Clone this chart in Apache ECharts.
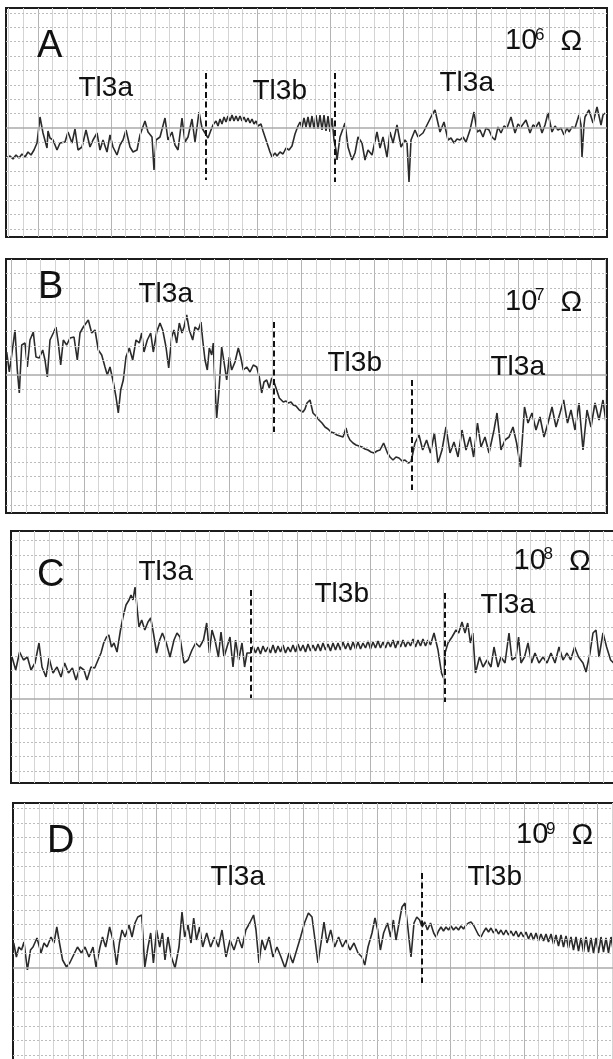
<!DOCTYPE html>
<html><head><meta charset="utf-8">
<script src="https://cdn.jsdelivr.net/npm/echarts@6/dist/echarts.min.js"></script>
<style>html,body{margin:0;padding:0;background:#fff}#c{width:613px;height:1059px}</style>
</head><body><div id="c"></div>
<script>
// ---- data: [time, amplitude] read from the recordings ----
const traceA = [[0,-30],[4,-28],[7,-31],[10,-27],[13,-30],[16,-26],[19,-29],[22,-24],[25,-27],[28,-22],[31,-15],[34,11],[37,-5],[41,-20],[42,-3],[44,-10],[47,-12],[51,-22],[54,-15],[59,-14],[62,-4],[66,-15],[69,-1],[72,-22],[76,-19],[80,-2],[84,-19],[87,-12],[91,-5],[94,-22],[97,-12],[101,-24],[104,-7],[107,-19],[111,-27],[114,-17],[117,-12],[120,-2],[124,-19],[127,-24],[131,-22],[134,-7],[139,7],[142,-4],[146,-9],[148,-42],[150,-12],[154,-9],[159,10],[162,-12],[166,-4],[169,-17],[172,-22],[176,10],[179,-14],[182,-9],[186,9],[189,-14],[193,16],[196,0],[199,-5],[202,-10],[205,-2],[207,3],
[210,7],[212,2],[214,9],[216,4],[218,11],[220,6],[222,12],[224,7],[226,13],[228,7],[230,12],[232,7],[234,12],[236,7],[238,11],[240,6],[242,10],[244,5],[246,9],[248,4],[250,7],[252,2],[255,4],[257,-3],[260,-12],[262,-18],[264,-24],[266,-29],[269,-25],[271,-28],[274,-24],[277,-26],[280,-20],[283,-22],[286,-18],[289,-6],[292,2],[294,6],
[296,0],[298,10],[300,1],[302,11],[304,0],[306,12],[308,-1],[310,13],[312,-1],[314,13],[316,-2],[318,13],[320,-3],[322,12],[324,-4],[326,10],[328,-12],[330,-22],[331,-32],[334,-9],[339,5],[342,-19],[346,-32],[349,-25],[352,-9],[356,-15],[359,-32],[362,-22],[366,-27],[371,-4],[374,-20],[377,-9],[381,-29],[384,-4],[387,-15],[391,3],[395,-19],[399,-12],[401,-15],[403,-54],[405,-12],[409,-2],[412,-9],[417,-5],[422,5],[426,13],[429,18],[434,-4],[438,6],[442,-12],[445,-10],[448,-15],[451,-11],[454,-12],[457,-9],[460,-14],[464,-2],[468,16],[471,-4],[474,-2],[477,-9],[480,0],[483,-2],[486,-9],[489,-12],[492,1],[495,-5],[498,2],[501,0],[505,11],[509,-5],[512,4],[515,1],[520,8],[524,-5],[527,3],[530,1],[533,6],[536,-5],[539,3],[542,15],[546,-4],[549,2],[552,-2],[555,0],[558,-7],[561,0],[563,-4],[566,1],[569,0],[573,13],[575,3],[576,-29],[578,3],[579,11],[583,18],[587,5],[591,21],[595,3],[597,13],[599,15]];

const traceB = [[0.7,23],[3.3,3],[5.7,20],[9,45],[11.3,5],[13.3,-18],[15.7,30],[19,32],[21.3,8],[24,35],[27.3,43],[30,18],[33.3,17],[36.7,25],[39,15],[41.3,-2],[44,35],[47.3,42],[50,48],[52.3,32],[54.7,10],[57.3,35],[60.7,30],[64,37],[68,38],[71.3,15],[74,42],[77.3,48],[82.3,55],[85.7,42],[89,45],[92.3,25],[95.7,20],[99,8],[101.3,0],[104,8],[107.3,-7],[110,-22],[112.3,-38],[114.7,-15],[117.3,-5],[120,18],[123.3,27],[126.7,15],[130,35],[133.3,32],[135.7,42],[138,23],[141.3,35],[144.7,42],[147.3,23],[150.7,43],[154,52],[156.7,45],[160,28],[162.7,7],[165.7,38],[168,45],[170.7,32],[173.3,52],[176,42],[178,48],[180.7,60],[183.3,45],[186.7,35],[189,48],[192.3,45],[195,53],[196.7,35],[199,15],[201.3,5],[203.3,27],[205.7,20],[207.3,32],[209,-12],[210.7,-43],[213,-15],[215.7,28],[218,13],[220.7,-5],[223.3,18],[225.7,5],[229,13],[232.3,27],[234.7,18],[237.3,5],[240.7,8],[244,3],[247.3,10],[250.7,8],[253.3,-2],[255.7,-18],[258,-7],[260.7,-5],[263.3,-13],[265.7,-3],[268,-7],[270.7,-15],[273.3,-23],[275,-25],[277.3,-27],[280,-26],[282.3,-28],[285,-27],[287.3,-30],[290,-31],[293.3,-35],[295,-34],
[297,-37],[299,-34],[301,-28],[304,-25],[307,-38],[310,-41],[313,-45],[316,-48],[319,-52],[322,-54],[325,-57],[328,-58],[331,-60],[334,-61],[337,-62],[340,-53],[342,-61],[344,-65],[347,-68],[350,-70],[353,-71],[356,-72],[359,-74],[362,-75],[365,-77],[368,-78],[371,-76],[374,-75],[377.6,-68],[381.5,-78],[384,-82],[387,-85],[390,-82],[393,-83],[396,-86],[399,-85],[402,-88],[405,-87],
[409,-68],[413,-60],[416.7,-75],[420.6,-65],[424.5,-78],[428.4,-58],[432,-88],[436,-75],[440,-52],[444,-78],[448,-67],[452,-82],[456,-55],[460,-75],[464,-62],[467.6,-82],[471.5,-48],[475,-72],[479,-62],[483,-78],[488,-55],[491,-38],[495,-75],[499,-65],[503,-62],[507,-52],[510.6,-68],[514.5,-92],[518.5,-32],[522,-48],[526,-38],[530,-55],[534,-42],[538,-62],[542,-48],[546,-32],[550,-52],[554,-38],[557.6,-25],[561.5,-48],[565,-35],[569,-55],[573,-28],[577,-75],[581,-35],[585,-52],[589,-28],[593,-45],[597,-25],[600,-48]];

const traceCpre = [[1,42],[4.7,29],[8.6,47],[12.5,39],[16.4,42],[20,29],[24,36],[28,56],[31,32],[35,22],[38,41],[42,26],[46,32],[50,22],[53.6,36],[57.5,26],[61.4,31],[65,19],[69,32],[73,29],[76,19],[80,32],[83.7,31],[87,39],[90,46],[92.7,56],[95.5,62],[97.8,64],[100.5,52],[103,56],[106,47],[109.5,69],[112,82],[115,94],[118,99],[120,104],[122,99],[124,112],[126,92],[128,72],[130.7,79],[133.8,69],[137,77],[139.7,81],[142.4,66],[145.6,46],[148.7,59],[151.4,66],[155.3,56],[159,42],[163,59],[166,66],[169,62],[173,36],[177,39],[181,49],[184.7,56],[188.6,52],[192.5,59],[195.7,76],[198.4,46],[201,69],[204,59],[207.4,42],[210,67],[213,42],[216,52],[219,62],[222,32],[224.6,59],[227.7,39],[231,56],[233.6,32],[236,46],[239.5,46]];
// Tl3b oscillation in C, sampled every 2.5 time units from t = 242
const tl3bCStart = 242, tl3bCStep = 2.5;
const tl3bC = [53,46,52,45,53,47,52,46,54, 46,53,47,54,46,52,47,54,47, 55,48,54,47,55,48,54,48,55, 48,56,49,55,48,56,49,56,49, 57,50,56,49,57,50,57,50,56, 51,58,50,57,51,58,51,57,51, 58,52,59,51,58,52,59,52,58, 53,60,52,59,53,60,53,59,54];
const traceCpost = [[423,66],[427,49],[430.5,26],[432.5,21],[434,46],[437,56],[441,62],[445,69],[447.7,66],[451,77],[454,66],[456.7,76],[459.4,56],[461.8,66],[464.5,26],[468.5,42],[472,32],[476,39],[480,32],[483,52],[487,32],[490,42],[494,36],[498,66],[501,39],[505,42],[507.6,62],[510,36],[513.5,42],[517,56],[520.5,36],[524,46],[528,36],[532,42],[536,36],[540,46],[544,36],[548,52],[552,39],[556,46],[559.6,39],[563.6,52],[567.5,42],[572,36],[575,27],[579,46],[582,66],[585,69],[588,42],[592,66],[595.6,52],[599.6,39],[602.7,36]];

const traceDpre = [[0.7,25],[3.4,11],[5.8,21],[8.5,18],[11,26],[14.4,-2],[17.5,18],[20,21],[24,30],[28,15],[31,25],[34,21],[38,31],[41,25],[43.8,41],[46.5,25],[49.6,8],[53.5,1],[56.7,5],[60.6,13],[64.5,21],[68.4,15],[72,21],[76,11],[80,21],[83,1],[87,21],[89.5,31],[92.7,21],[96.6,41],[100.5,26],[103.6,3],[106.4,25],[109,38],[112,31],[116,43],[119,31],[122,45],[124.8,51],[128.7,53],[131.8,1],[135,21],[137.7,35],[140.4,5],[143.6,38],[146.7,21],[149.4,35],[152,8],[155,31],[158.4,11],[162,0],[166,21],[169,56],[171.7,31],[175,43],[178,25],[180.7,50],[183.5,28],[186.6,41],[189.7,21],[193.7,35],[197.6,21],[201.5,31],[205.4,21],[209,38],[213,11],[217,28],[221,18],[225,31],[229,20],[232.8,38],[236.7,45],[240.6,53],[243,38],[246,5],[249,28],[252,18],[256,31],[260,11],[264,21],[268,11],[272,0],[276,15],[279.8,5],[283.7,18],[287.6,31],[291.5,45],[295.4,55],[299,51],[302,28],[305,5],[308,25],[311,46],[314,25],[317.7,38],[321.6,21],[325.6,31],[329.5,21],[333,28],[337,18],[341,25],[345,15],[349,11],[351.8,3],[355,21],[359,35],[362,50],[364.7,38],[367.4,18],[370.6,35],[374.5,45],[377.6,31],[380.4,48],[383,28],[386,45],[389,61],[392,65],[394.8,41],[398,11],[401,45],[403.8,51],[406.6,48],[409,41],[411.7,46],[414.4,38],[417.5,45],[420.7,35]];
// Tl3b section in D, sampled every 2.5 time units from t = 423
const tl3bDStart = 423, tl3bDStep = 2.5;
const tl3bD = [31,37,41,37,41,38,42,38,41, 38,42,39,43,45,46,43,38,33, 31,36,40,36,40,35,39,34,38, 33,38,33,37,32,37,31,36,31, 36,29,35,28,35,27,34,27,34, 26,34,24,33,22,33,21,32,20, 31,18,31,17,30,16,31,16,30, 15,30,15,31,16,30,15,31,16];

// solution-change boundaries: [time, top, bottom]
const boundA = [[200,55,-52],[328.6,55,-54]];
const boundB = [[268,53,-57],[406,-5,-115]];
const boundC = [[239.5,109,1],[434,106,-3]];
const boundD = [[408.5,95,-15]];

const resist = ['6','7','8','9'];

function uniform(start, step, vals){ return vals.map((v,i)=>[start+i*step, v]); }
const traceC = traceCpre.concat(uniform(tl3bCStart,tl3bCStep,tl3bC), traceCpost);
const traceD = traceDpre.concat(uniform(tl3bDStart,tl3bDStep,tl3bD));

// ---- layout ----
const panels = [
 {grid:{left:6,top:8,width:601,height:229}, x:[0,601], y:[-109,120], vx0:2.7, vdx:14.62, vdark:2, hdy:14.4, hj:[-7,8], trace:traceA, bounds:boundA},
 {grid:{left:6,top:259,width:601,height:254}, x:[0,601], y:[-138,116], vx0:5.5, vdx:14.49, vdark:0, hdy:14.5, hj:[-9,7], trace:traceB, bounds:boundB},
 {grid:{left:11,top:531,width:612,height:252}, x:[0,612], y:[-84,168], vx0:8.6, vdx:14.6, vdark:4, hdy:14.4, hj:[-5,11], trace:traceC, bounds:boundC},
 {grid:{left:13,top:803,width:610,height:266}, x:[0,610], y:[-101,165], vx0:11.2, vdx:14.7, vdark:4, hdy:14.5, hj:[-6,11], trace:traceD, bounds:boundD}
];

const FONT = 'Liberation Sans, Arial, sans-serif';
const labels = [
 // [text, x, y, size]
 ['A',37,47,38],['Tl3a',78.5,88.5,28],['Tl3b',252.5,91,28],['Tl3a',439.5,83.5,28],
 ['B',38,287.5,38],['Tl3a',138.5,294,28],['Tl3b',327.5,363.5,28],['Tl3a',490.5,367.5,28],
 ['C',37,576,38],['Tl3a',138.5,572,28],['Tl3b',314.5,594,28],['Tl3a',480.5,605,28],
 ['D',47,842,38],['Tl3a',210.5,877.5,28],['Tl3b',467.5,877.5,28]
];
const ohm = [[505,41],[505,301.5],[513.5,560.5],[516,835]];

const grids=[], xAxes=[], yAxes=[], series=[], graphic=[];
panels.forEach((p,i)=>{
  grids.push(Object.assign({show:true, borderColor:'#1c1c1c', borderWidth:2, backgroundColor:'#fff', outerBoundsMode:'none', containLabel:false}, p.grid));
  xAxes.push({type:'value', gridIndex:i, min:p.x[0], max:p.x[1], show:false});
  yAxes.push({type:'value', gridIndex:i, min:p.y[0], max:p.y[1], show:false});
  const gl=[];
  for(let k=0;;k++){ const t=p.vx0+k*p.vdx; if(t>p.x[1]-1) break;
    const dark = (k%5)===p.vdark;
    gl.push({xAxis:t, lineStyle:{color: dark?'#b4b4b4':'#d4d4d4', width:1, type:'solid'}}); }
  for(let j=p.hj[0];j<=p.hj[1];j++){ const v=j*p.hdy;
    gl.push({yAxis:v, lineStyle: j===0?{color:'#aaaaaa',width:1.5,type:'solid'}:{color:'#bdbdbd',width:1,type:[2,2]}}); }
  series.push({type:'line', xAxisIndex:i, yAxisIndex:i, data:[], z:1, silent:true,
    markLine:{silent:true, symbol:['none','none'], label:{show:false}, animation:false, data:gl}});
  series.push({type:'line', xAxisIndex:i, yAxisIndex:i, data:p.trace, showSymbol:false, symbol:'none', z:3,
    lineStyle:{color:'#2b2b2b', width:1.6}, animation:false, silent:true});
  series.push({type:'line', xAxisIndex:i, yAxisIndex:i, data:[], z:4, silent:true,
    markLine:{silent:true, symbol:['none','none'], label:{show:false}, animation:false,
      lineStyle:{color:'#111', width:2, type:[6,3.5]},
      data:p.bounds.map(b=>[{coord:[b[0],b[1]]},{coord:[b[0],b[2]]}])}});
  const o=ohm[i];
  graphic.push({type:'text', x:o[0], y:o[1], z:10, style:{text:'10', font:'29px '+FONT, fill:'#111', textVerticalAlign:'middle'}});
  graphic.push({type:'text', x:o[0]+30, y:o[1]-6, z:10, style:{text:resist[i], font:'17px '+FONT, fill:'#111', textVerticalAlign:'middle'}});
  graphic.push({type:'text', x:o[0]+55.5, y:o[1]+1, z:10, style:{text:'Ω', font:'29px '+FONT, fill:'#111', textVerticalAlign:'middle'}});
});
labels.forEach(l=>graphic.push({type:'text', x:l[1], y:l[2], z:10, style:{text:l[0], font:l[3]+'px '+FONT, fill:'#111', textVerticalAlign:'middle'}}));

const chart = echarts.init(document.getElementById('c'), null, {renderer:'canvas'});
chart.setOption({animation:false, backgroundColor:'#fff', grid:grids, xAxis:xAxes, yAxis:yAxes, series:series, graphic:graphic});
</script></body></html>
